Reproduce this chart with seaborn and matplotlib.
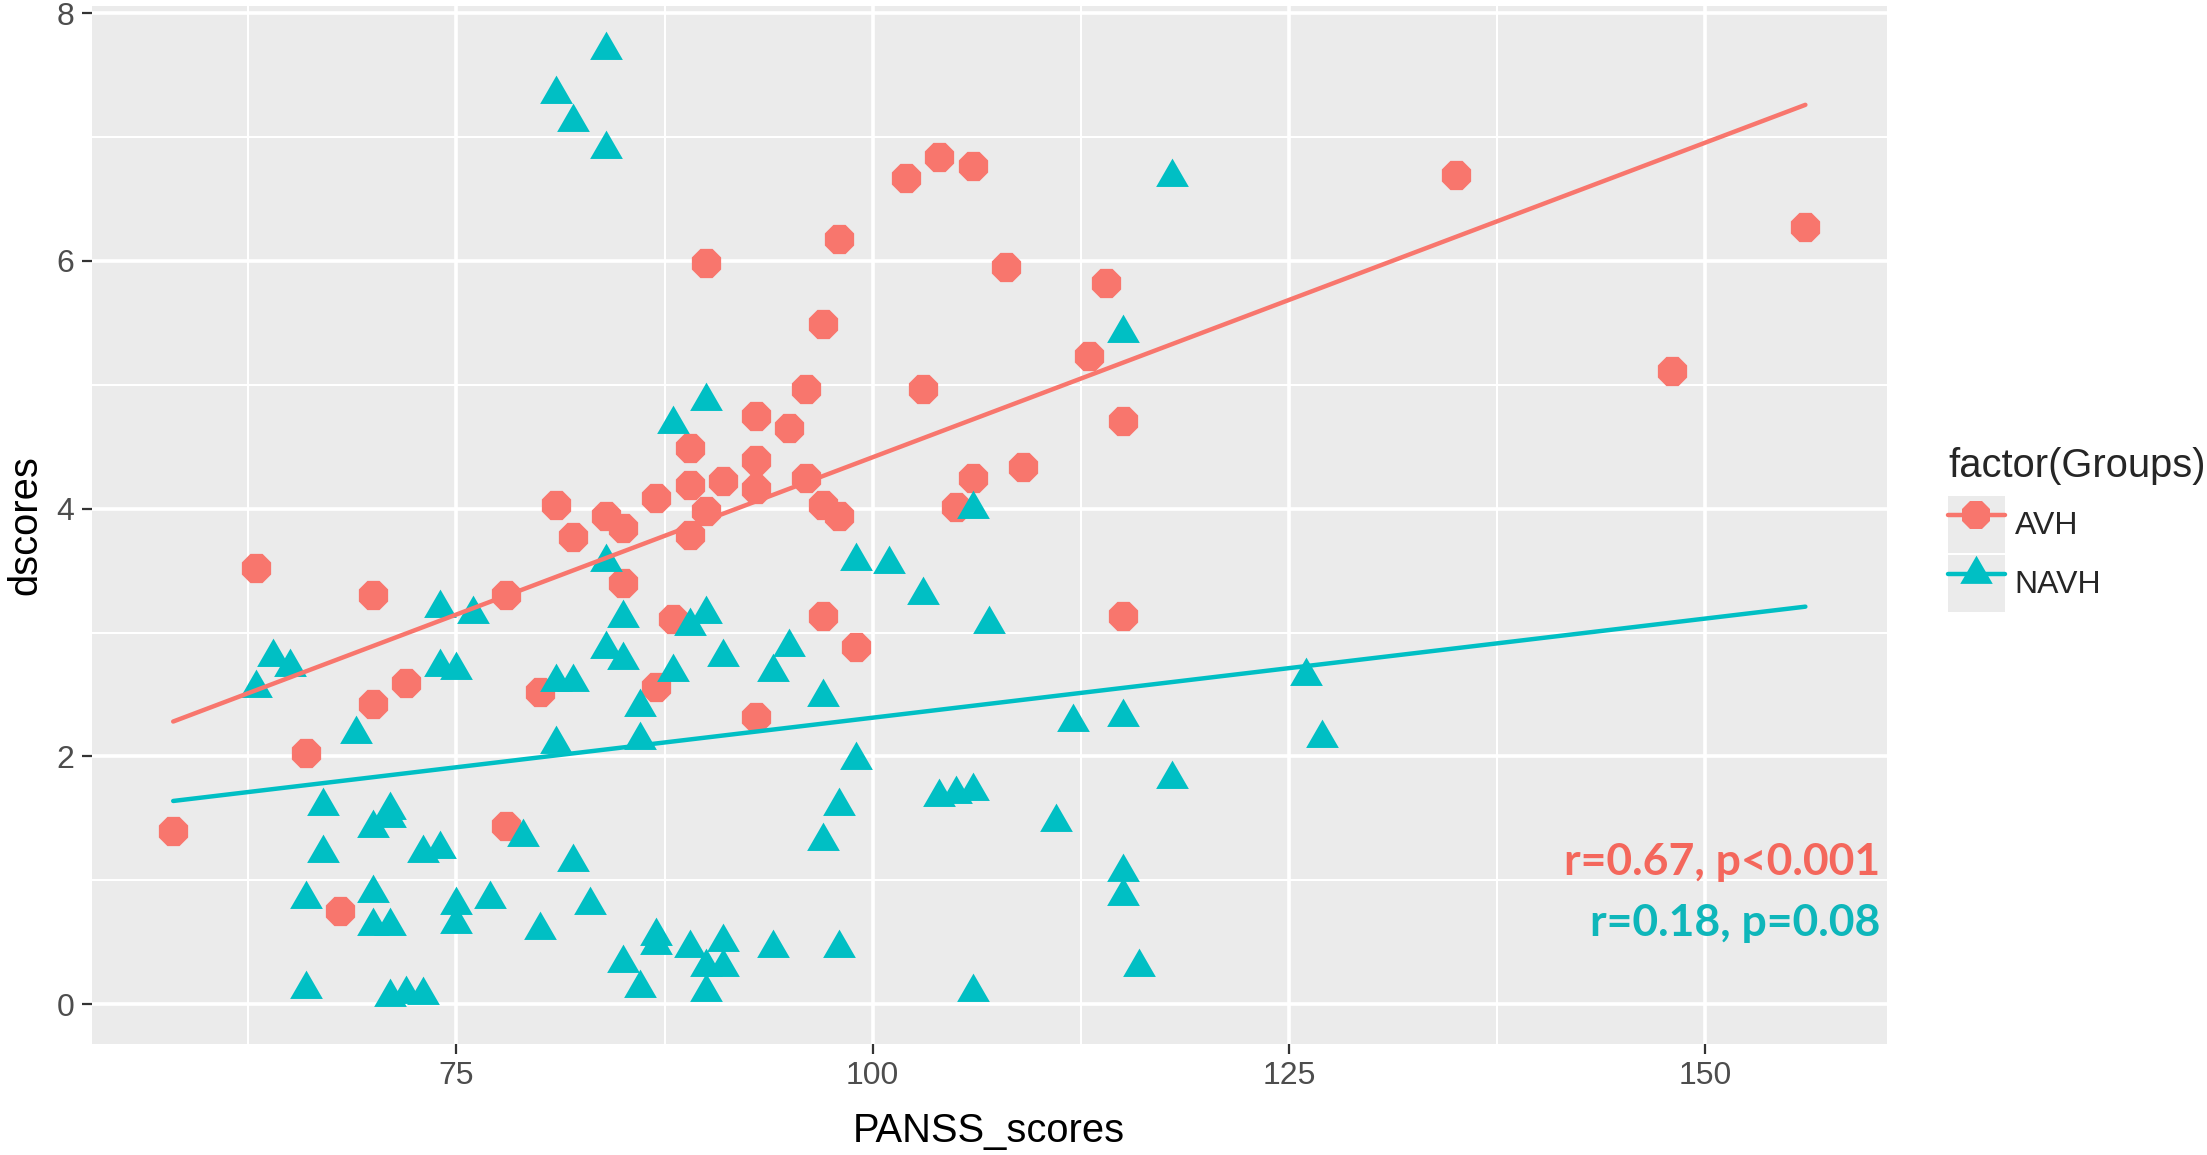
import numpy as np
import pandas as pd
import matplotlib
matplotlib.use("Agg")
import matplotlib.pyplot as plt
import seaborn as sns
from matplotlib.legend_handler import HandlerLine2D
from matplotlib.lines import Line2D
from matplotlib.patches import Rectangle
from matplotlib.ticker import FixedLocator

# ---------------- data ----------------
groups = ["AVH", "NAVH"]
group_colors = ["#F8766D", "#00BFC4"]

avh_panss = [58, 63, 66, 68, 70, 70, 72, 78, 78, 80, 81, 82, 84, 85, 85, 87, 87, 88,
             89, 89, 89, 90, 90, 91, 93, 93, 93, 93, 95, 96, 96, 97, 97, 97, 98, 98,
             99, 102, 103, 104, 105, 106, 106, 108, 109, 113, 114, 115, 115, 135, 148, 156]
avh_dscores = [1.40, 3.52, 2.03, 0.75, 3.30, 2.42, 2.59, 3.30, 1.44, 2.52, 4.03, 3.77,
               3.94, 3.84, 3.40, 4.09, 2.56, 3.11, 4.49, 4.19, 3.79, 5.98, 3.98, 4.22,
               4.75, 4.39, 4.16, 2.32, 4.65, 4.97, 4.25, 5.49, 4.03, 3.13, 6.18, 3.94,
               2.88, 6.67, 4.97, 6.84, 4.01, 6.77, 4.25, 5.95, 4.34, 5.23, 5.82, 4.71,
               3.13, 6.69, 5.11, 6.27]

navh_panss = [63, 64, 65, 66, 66, 67, 67, 69, 70, 70, 70, 71, 71, 71, 71, 72, 73, 73,
              74, 74, 74, 75, 75, 75, 76, 77, 79, 80, 81, 81, 81, 82, 82, 82, 83, 84,
              84, 84, 84, 85, 85, 85, 86, 86, 86, 87, 87, 88, 88, 89, 89, 90, 90, 90,
              90, 91, 91, 91, 94, 94, 95, 97, 97, 98, 98, 99, 99, 101, 103, 104, 105,
              106, 106, 106, 107, 111, 112, 115, 115, 115, 115, 116, 118, 118, 126, 127]
navh_dscores = [2.55, 2.80, 2.72, 0.85, 0.12, 1.60, 1.22, 2.18, 1.42, 0.90, 0.63, 1.57,
                1.50, 0.63, 0.06, 0.08, 1.22, 0.07, 3.20, 2.72, 1.25, 2.70, 0.80, 0.65,
                3.15, 0.85, 1.35, 0.60, 7.35, 2.60, 2.10, 7.12, 2.60, 1.15, 0.80, 7.70,
                6.90, 3.57, 2.87, 3.12, 2.78, 0.33, 2.40, 2.13, 0.13, 0.55, 0.48, 4.68,
                2.68, 3.05, 0.45, 4.87, 3.15, 0.30, 0.10, 2.80, 0.50, 0.30, 2.68, 0.45,
                2.88, 2.48, 1.32, 1.60, 0.45, 3.58, 1.97, 3.55, 3.30, 1.67, 1.70, 4.00,
                1.72, 0.10, 3.07, 1.47, 2.28, 5.42, 2.32, 1.07, 0.87, 0.30, 6.68, 1.82,
                2.65, 2.15]

x_ticks = [75, 100, 125, 150]
x_minor = [62.5, 87.5, 112.5, 137.5]
y_ticks = [0, 2, 4, 6, 8]
y_minor = [1, 3, 5, 7]
annotations = ["r=0.67, p<0.001", "r=0.18, p=0.08"]

df = pd.DataFrame({
    "PANSS_scores": avh_panss + navh_panss,
    "dscores": avh_dscores + navh_dscores,
    "Groups": [groups[0]] * len(avh_panss) + [groups[1]] * len(navh_panss),
})

# ---------------- style ----------------
sns.set_style("white")
plt.rcParams["font.family"] = ["Liberation Sans", "DejaVu Sans"]

# equilateral triangle (centroid at origin), like ggplot shape 17
tri = [(0.0, 1.0), (-0.866, -0.5), (0.866, -0.5), (0.0, 1.0)]
markers = {"AVH": "8", "NAVH": tri}
sizes = {"AVH": 520, "NAVH": 740}
line_w = 3.2

fig = plt.figure(figsize=(22.07, 11.55), dpi=100)
ax = fig.add_axes([0.0415, 0.0963, 0.8135, 0.8987])
ax.set_facecolor("#EBEBEB")
for sp in ax.spines.values():
    sp.set_visible(False)

for g, c in zip(groups, group_colors):
    sub = df[df["Groups"] == g]
    sns.scatterplot(data=sub, x="PANSS_scores", y="dscores", color=c,
                    marker=markers[g], s=sizes[g], linewidth=0, ax=ax,
                    legend=False, zorder=3)

# fitted lines span the full range of PANSS_scores (as in the ggplot smooth)
x_lo, x_hi = df["PANSS_scores"].min(), df["PANSS_scores"].max()
ax.set_xlim(x_lo, x_hi)
for g, c in zip(groups, group_colors):
    sub = df[df["Groups"] == g]
    sns.regplot(data=sub, x="PANSS_scores", y="dscores", scatter=False, ci=None,
                truncate=False, color=c,
                line_kws={"lw": line_w, "zorder": 4}, ax=ax)

pad_x = 0.05 * (x_hi - x_lo)
ax.set_xlim(x_lo - pad_x, x_hi + pad_x)
ax.set_ylim(-0.32, 8.06)
ax.xaxis.set_major_locator(FixedLocator(x_ticks))
ax.xaxis.set_minor_locator(FixedLocator(x_minor))
ax.yaxis.set_major_locator(FixedLocator(y_ticks))
ax.yaxis.set_minor_locator(FixedLocator(y_minor))
ax.set_xticklabels([str(t) for t in x_ticks])
ax.set_yticklabels([str(t) for t in y_ticks])
ax.grid(which="major", color="white", lw=2.6)
ax.grid(which="minor", color="white", lw=1.5)
ax.set_axisbelow(True)
ax.tick_params(which="major", length=7, width=1.6, color="#333333",
               labelsize=23, labelcolor="#4D4D4D", pad=5.5,
               bottom=True, left=True)
ax.tick_params(which="minor", length=0)

ax.set_xlabel("PANSS_scores", fontsize=28.75, color="black")
ax.set_ylabel("dscores", fontsize=28.75, color="black")
ax.xaxis.set_label_coords(0.5, -0.066)
ax.yaxis.set_label_coords(-0.0265, 0.5)

# annotations
ax.text(160.5, 1.04, annotations[0], ha="right", va="baseline", fontsize=32,
        fontweight="bold", family=["Lato", "DejaVu Sans"], color="#F4675C", zorder=5)
ax.text(160.5, 0.55, annotations[1], ha="right", va="baseline", fontsize=32,
        fontweight="bold", family=["Lato", "DejaVu Sans"], color="#0EB6BA", zorder=5)


# legend with grey key backgrounds
class KeyHandler(HandlerLine2D):
    def create_artists(self, legend, orig_handle, xdescent, ydescent, width,
                       height, fontsize, trans):
        rect = Rectangle((-xdescent, -ydescent), width, height,
                         facecolor="#EBEBEB", edgecolor="none", transform=trans)
        arts = super().create_artists(legend, orig_handle, xdescent, ydescent,
                                      width, height, fontsize, trans)
        return [rect] + list(arts)


handles = [
    Line2D([0], [0], color=group_colors[0], lw=line_w, marker="8",
           markersize=22, markeredgewidth=0),
    Line2D([0], [0], color=group_colors[1], lw=line_w, marker=tri,
           markersize=27, markeredgewidth=0),
]
leg = fig.legend(handles, groups, loc="upper left",
                 bbox_to_anchor=(1948 / 2207, 1 - 447 / 1155),
                 frameon=False, borderpad=0, borderaxespad=0,
                 title="factor(Groups)", title_fontsize=28.75, fontsize=23,
                 handlelength=1.78, handleheight=2.37, handletextpad=0.3,
                 labelspacing=0.06, alignment="left",
                 handler_map={Line2D: KeyHandler()})
# a little more space between the legend title and its keys (ggplot-like)
leg._legend_box.sep = 8

fig.savefig("out.png", dpi=100)
